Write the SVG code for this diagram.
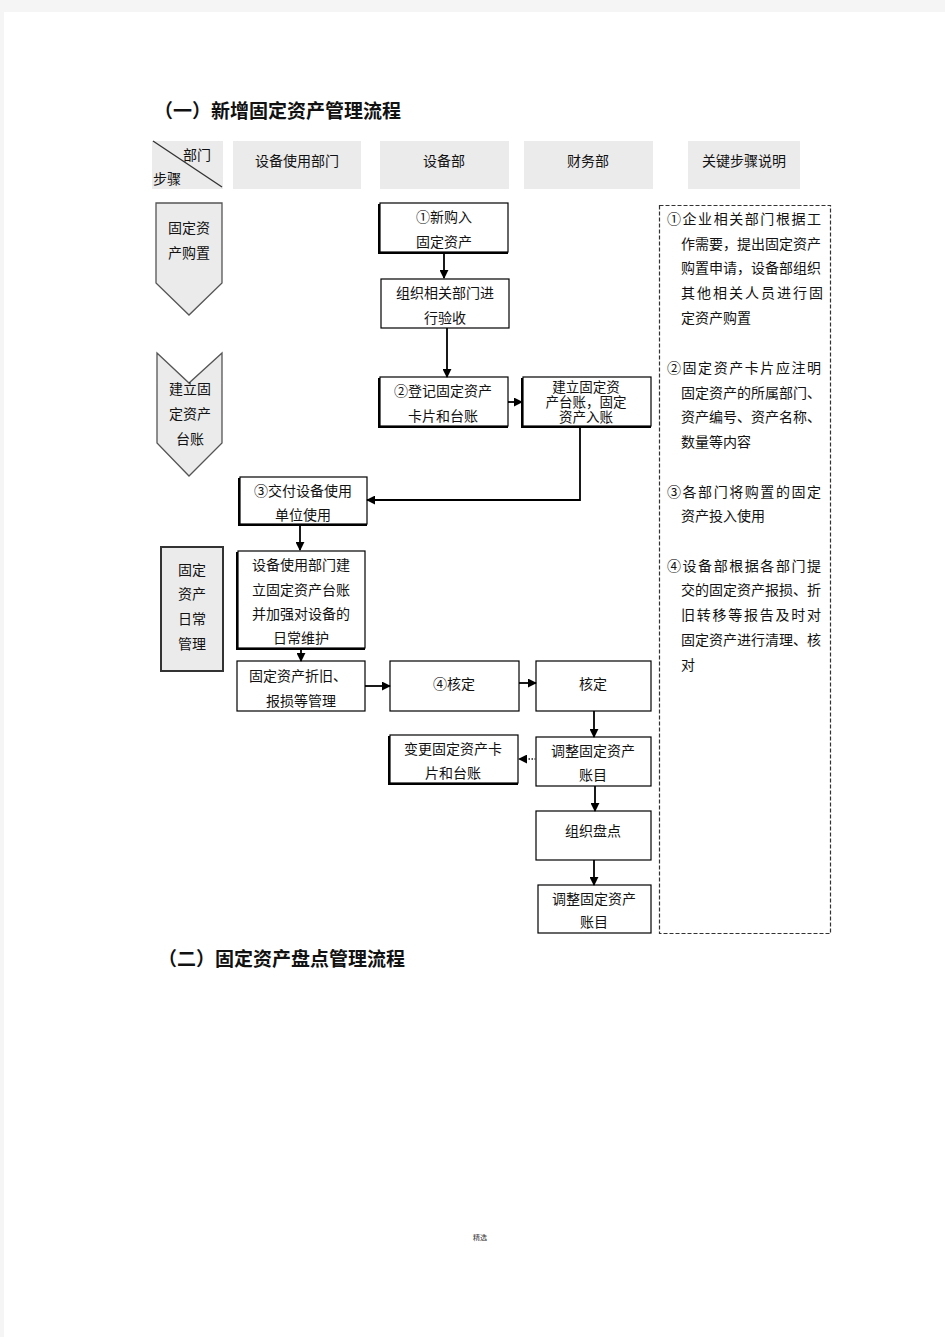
<svg xmlns="http://www.w3.org/2000/svg" width="945" height="1337" viewBox="0 0 945 1337">
<defs>
<marker id="arr" viewBox="0 0 10 10" refX="9" refY="5" markerWidth="9" markerHeight="9" markerUnits="userSpaceOnUse" orient="auto">
<path d="M0,0 L10,5 L0,10 z" fill="#000"/>
</marker>
<style>
.t{font-family:"Noto Sans CJK SC","Noto Sans",sans-serif;font-size:14px;fill:#111;}
.c{text-anchor:middle;}
.s{font-size:13.5px;}
.h{font-family:"Noto Sans CJK SC","Liberation Serif",serif;font-size:19px;font-weight:700;fill:#111;}
.hd{fill:#ebebeb;}
.bx{fill:#fff;stroke:#000;stroke-width:1.2;}
.sh{fill:#000;}
.side{fill:#ebebeb;stroke:#555;stroke-width:1.3;}
.ln{fill:none;stroke:#000;stroke-width:1.8;}
</style>
</defs>
<rect x="0" y="0" width="945" height="1337" fill="#f5f5f5"/>
<rect x="4" y="12" width="941" height="1325" fill="#fff"/>

<text class="h" x="154" y="118">（一）新增固定资产管理流程</text>
<text class="h" x="158" y="966">（二）固定资产盘点管理流程</text>

<g id="header">
<rect class="hd" x="152" y="141" width="71" height="48"/>
<line x1="153" y1="141" x2="222" y2="187" stroke="#333" stroke-width="1.3"/>
<text class="t" x="183" y="160">部门</text>
<text class="t" x="153" y="184">步骤</text>
<rect class="hd" x="233" y="141" width="128" height="48"/>
<text class="t c" x="297" y="166">设备使用部门</text>
<rect class="hd" x="380" y="141" width="129" height="48"/>
<text class="t c" x="444" y="166">设备部</text>
<rect class="hd" x="524" y="141" width="129" height="48"/>
<text class="t c" x="588" y="166">财务部</text>
<rect class="hd" x="688" y="141" width="112" height="48"/>
<text class="t c" x="744" y="166">关键步骤说明</text>
</g>

<g id="stage1">
<path class="side" d="M156,203 L222,203 L222,283 L189,315 L156,283 Z"/>
<text class="t c" x="189" y="233">固定资</text>
<text class="t c" x="189" y="258">产购置</text>
</g>
<g id="stage2">
<path class="side" d="M157,353 L189,383 L222,353 L222,443 L189,476 L157,443 Z"/>
<text class="t c" x="190" y="394">建立固</text>
<text class="t c" x="190" y="419">定资产</text>
<text class="t c" x="190" y="444">台账</text>
</g>
<g id="stage3">
<rect x="161" y="547" width="62" height="124" fill="#ebebeb" stroke="#333" stroke-width="2"/>
<text class="t c" x="192" y="575">固定</text>
<text class="t c" x="192" y="599">资产</text>
<text class="t c" x="192" y="624">日常</text>
<text class="t c" x="192" y="649">管理</text>
</g>

<g id="nA">
<rect class="sh" x="378" y="204" width="130" height="50"/>
<rect class="bx" x="380" y="203" width="128" height="49"/>
<text class="t c" x="444" y="222">①新购入</text>
<text class="t c" x="444" y="247">固定资产</text>
</g>
<g id="nB">
<rect class="bx" x="381" y="279" width="128" height="49"/>
<text class="t c" x="445" y="298">组织相关部门进</text>
<text class="t c" x="445" y="323">行验收</text>
</g>
<g id="nC">
<rect class="sh" x="378" y="378" width="130" height="50"/>
<rect class="bx" x="380" y="377" width="128" height="49"/>
<text class="t c" x="443" y="396">②登记固定资产</text>
<text class="t c" x="443" y="421">卡片和台账</text>
</g>
<g id="nD">
<rect class="sh" x="521" y="378" width="130" height="50"/>
<rect class="bx" x="523" y="377" width="128" height="49"/>
<text class="t c s" x="586" y="392">建立固定资</text>
<text class="t c s" x="586" y="407">产台账，固定</text>
<text class="t c s" x="586" y="422">资产入账</text>
</g>
<g id="nE">
<rect class="sh" x="238" y="478" width="129" height="48"/>
<rect class="bx" x="240" y="477" width="127" height="47"/>
<text class="t c" x="303" y="496">③交付设备使用</text>
<text class="t c" x="303" y="520">单位使用</text>
</g>
<g id="nF">
<rect class="sh" x="236" y="552" width="129" height="98"/>
<rect class="bx" x="238" y="551" width="127" height="97"/>
<text class="t c" x="301" y="570">设备使用部门建</text>
<text class="t c" x="301" y="595">立固定资产台账</text>
<text class="t c" x="301" y="619">并加强对设备的</text>
<text class="t c" x="301" y="643">日常维护</text>
</g>
<g id="nG">
<rect class="bx" x="237" y="661" width="128" height="50"/>
<text class="t c" x="298" y="681">固定资产折旧、</text>
<text class="t c" x="301" y="706">报损等管理</text>
</g>
<g id="nH">
<rect class="bx" x="390" y="661" width="129" height="50"/>
<text class="t c" x="454" y="689">④核定</text>
</g>
<g id="nI">
<rect class="bx" x="536" y="661" width="115" height="50"/>
<text class="t c" x="593" y="689">核定</text>
</g>
<g id="nJ">
<rect class="bx" x="536" y="737" width="115" height="49"/>
<text class="t c" x="593" y="756">调整固定资产</text>
<text class="t c" x="593" y="780">账目</text>
</g>
<g id="nK">
<rect class="sh" x="388" y="736" width="130" height="49"/>
<rect class="bx" x="390" y="735" width="128" height="48"/>
<text class="t c" x="453" y="754">变更固定资产卡</text>
<text class="t c" x="453" y="778">片和台账</text>
</g>
<g id="nL">
<rect class="bx" x="536" y="811" width="115" height="49"/>
<text class="t c" x="593" y="836">组织盘点</text>
</g>
<g id="nM">
<rect class="bx" x="538" y="885" width="113" height="48"/>
<text class="t c" x="594" y="904">调整固定资产</text>
<text class="t c" x="594" y="927">账目</text>
</g>

<g id="notes">
<rect x="659.5" y="205.5" width="171" height="728" fill="none" stroke="#333" stroke-width="1.2" stroke-dasharray="4,2"/>
<text class="t" x="667" y="224" textLength="154" lengthAdjust="spacing">①企业相关部门根据工</text>
<text class="t" x="681" y="249" textLength="140" lengthAdjust="spacing">作需要，提出固定资产</text>
<text class="t" x="681" y="273" textLength="140" lengthAdjust="spacing">购置申请，设备部组织</text>
<text class="t" x="681" y="298" textLength="142" lengthAdjust="spacing">其他相关人员进行固</text>
<text class="t" x="681" y="323">定资产购置</text>
<text class="t" x="667" y="373" textLength="154" lengthAdjust="spacing">②固定资产卡片应注明</text>
<text class="t" x="681" y="398" textLength="140" lengthAdjust="spacing">固定资产的所属部门、</text>
<text class="t" x="681" y="422" textLength="140" lengthAdjust="spacing">资产编号、资产名称、</text>
<text class="t" x="681" y="447">数量等内容</text>
<text class="t" x="667" y="497" textLength="154" lengthAdjust="spacing">③各部门将购置的固定</text>
<text class="t" x="681" y="521">资产投入使用</text>
<text class="t" x="667" y="571" textLength="154" lengthAdjust="spacing">④设备部根据各部门提</text>
<text class="t" x="681" y="595" textLength="140" lengthAdjust="spacing">交的固定资产报损、折</text>
<text class="t" x="681" y="620" textLength="140" lengthAdjust="spacing">旧转移等报告及时对</text>
<text class="t" x="681" y="645" textLength="140" lengthAdjust="spacing">固定资产进行清理、核</text>
<text class="t" x="681" y="670">对</text>
</g>

<g id="connectors">
<line class="ln" x1="444" y1="253" x2="444" y2="278" marker-end="url(#arr)"/>
<line class="ln" x1="447" y1="328" x2="447" y2="377" marker-end="url(#arr)"/>
<line class="ln" x1="508" y1="402" x2="522" y2="402" marker-end="url(#arr)"/>
<polyline class="ln" points="580,427 580,500 367,500" marker-end="url(#arr)"/>
<line class="ln" x1="300" y1="525" x2="300" y2="550" marker-end="url(#arr)"/>
<line class="ln" x1="301" y1="649" x2="301" y2="661" marker-end="url(#arr)"/>
<line class="ln" x1="365" y1="686" x2="390" y2="686" marker-end="url(#arr)"/>
<line class="ln" x1="519" y1="683" x2="536" y2="683" marker-end="url(#arr)"/>
<line class="ln" x1="594" y1="711" x2="594" y2="737" marker-end="url(#arr)"/>
<line x1="536" y1="759" x2="519" y2="759" fill="none" stroke="#555" stroke-width="1.8" stroke-dasharray="1.5,1.5" marker-end="url(#arr)"/>
<line class="ln" x1="595" y1="786" x2="595" y2="811" marker-end="url(#arr)"/>
<line class="ln" x1="594" y1="860" x2="594" y2="885" marker-end="url(#arr)"/>
</g>

<text x="480" y="1240" font-family="Noto Sans CJK SC, sans-serif" font-size="7" text-anchor="middle" fill="#333">精选</text>
</svg>
